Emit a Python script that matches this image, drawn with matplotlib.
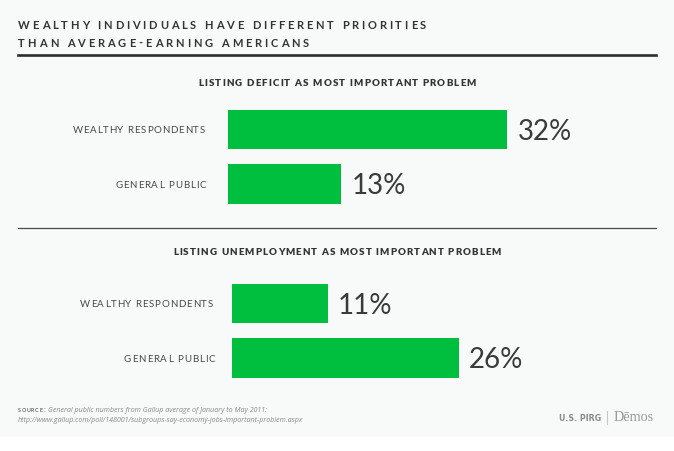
import matplotlib
matplotlib.use('Agg')
import matplotlib.pyplot as plt
from matplotlib.patches import Rectangle
from matplotlib.transforms import offset_copy

# data
title_lines = ['WEALTHY INDIVIDUALS HAVE DIFFERENT PRIORITIES', 'THAN AVERAGE-EARNING AMERICANS']
panel_titles = ['LISTING DEFICIT AS MOST IMPORTANT PROBLEM',
                'LISTING UNEMPLOYMENT AS MOST IMPORTANT PROBLEM']
groups = ['WEALTHY RESPONDENTS', 'GENERAL PUBLIC']
deficit = [32, 13]
unemployment = [11, 26]
source_label = 'SOURCE'
source_line1 = 'General public numbers from Gallup average of January to May 2011:'
source_line2 = 'http://www.gallup.com/poll/148001/subgroups-say-economy-jobs-important-problem.aspx'

W, H = 674, 451
BG = '#f8f9f9'
GREEN = '#00bf3f'
PX_PER_PCT = 8.73

fig = plt.figure(figsize=(W / 100, H / 100), dpi=100)
fig.patch.set_facecolor(BG)
renderer = fig.canvas.get_renderer()


def fx(px):
    return px / W


def fy(py):
    return 1 - py / H


def text_width(s, **kw):
    t = fig.text(0, 0, s, **kw)
    w = t.get_window_extent(renderer).width
    t.remove()
    return w


def spaced(x, y, s, width, ha='left', **kw):
    # letter-spaced caps: lay the characters out one by one so the line spans `width` px
    base = text_width('||', **kw)
    adv = [text_width('|' + ch + '|', **kw) - base for ch in s]
    natural = sum(adv[:-1]) + text_width(s[-1], **kw)
    track = (width - natural) / (len(s) - 1)
    start = {'left': x, 'right': x - width, 'center': x - width / 2}[ha]
    pos = start
    for ch, a in zip(s, adv):
        if ch != ' ':
            fig.text(fx(pos), fy(y), ch, ha='left', va='baseline', **kw)
        pos += a + track


def fitted(x, y, s, width, size=6, ha='left', **kw):
    # scale the font size so the string spans `width` px
    w = text_width(s, fontsize=size, **kw)
    return fig.text(fx(x), fy(y), s, fontsize=size * width / w, ha=ha, va='baseline', **kw)


# white strip at the bottom
fig.patches.append(Rectangle((0, 0), 1, fy(437), transform=fig.transFigure,
                             facecolor='white', edgecolor='none', zorder=-1))

# title
spaced(18, 29, title_lines[0], 408, fontsize=8, color='#333333', family='Lato', fontweight='bold')
spaced(18, 46.7, title_lines[1], 291, fontsize=8, color='#333333', family='Lato', fontweight='bold')
fig.add_artist(plt.Line2D([fx(18), fx(656)], [fy(54.5), fy(54.5)], color='#2e2e2e', lw=1.9))
fig.add_artist(plt.Line2D([fx(18), fx(656)], [fy(228.5), fy(228.5)], color='#4a4a4a', lw=0.9))


def panel(vals, left_px, top_px, title, title_y, title_x0, title_x1, label_right, label_widths):
    height_px = 109
    ax = fig.add_axes([fx(left_px), fy(top_px + height_px), fx(656 - left_px), height_px / H])
    ax.set_facecolor('none')
    ypos = [1, 0]
    ax.barh(ypos, vals, height=0.716, color=GREEN, edgecolor='none')
    ax.set_xlim(0, (656 - left_px) / PX_PER_PCT)
    ax.set_ylim(-0.5, 1.5)
    tr = offset_copy(ax.transData, fig=fig, x=10, y=-10.5, units='dots')
    for y, v in zip(ypos, vals):
        ax.text(v, y, f'{v}%', fontsize=20, color='#3a3a3a', fontweight='normal',
                family='Lato', va='baseline', ha='left', transform=tr)
    ax.axis('off')

    spaced(title_x0, title_y, title, title_x1 - title_x0, fontsize=7, fontweight='heavy',
           color='#333333', family='Lato')
    for i, g in enumerate(groups):
        spaced(label_right[i], top_px + 27.25 + i * 54.5 + 3.6, g, label_widths[i],
               ha='right', fontsize=7, color='#474747', family='Lato')


panel(deficit, 228, 102.25, panel_titles[0], 85.7, 198, 476, [204.5, 206.5], [132, 91.5])
panel(unemployment, 232, 276.25, panel_titles[1], 254.7, 173, 501, [212.5, 215], [132.5, 91])

# footer
spaced(18, 412, source_label, 24, fontsize=3.8, fontweight='bold', color='#666666', family='Lato')
fig.text(fx(43), fy(412), ':', fontsize=5, color='#888888', va='baseline', family='Open Sans')
fitted(48, 412, source_line1, 220, style='italic', color='#888888', family='Open Sans')
fitted(18, 421.5, source_line2, 290, style='italic', color='#888888', family='Open Sans')
fitted(559, 421, 'U.S. PIRG', 42, size=8, fontweight='bold', color='#8a8a8a',
       family='DejaVu Sans', fontstretch='condensed')
fig.add_artist(plt.Line2D([fx(606.5), fx(606.5)], [fy(411), fy(424)], color='#c8c8c8', lw=0.8))
fitted(614, 421, 'Dēmos', 40, size=9, color='#9a9a9a', family='Liberation Serif')

fig.savefig('out.png', dpi=100, facecolor=fig.get_facecolor())
